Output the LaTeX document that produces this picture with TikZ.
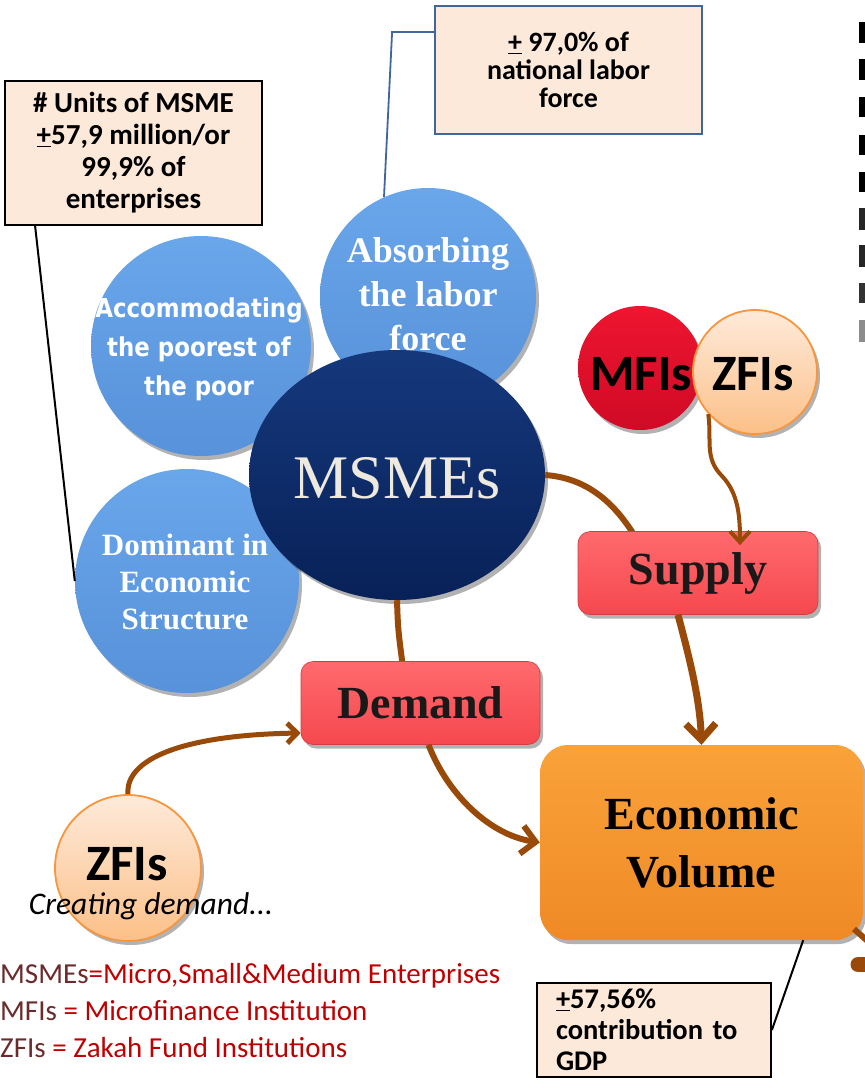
\documentclass[tikz,border=0pt]{standalone}
\usepackage{fontspec}
\setmainfont{Liberation Serif}
\newfontfamily\calib{Carlito}
\newfontfamily\tahfont[FakeStretch=0.88]{DejaVu Sans}
\usetikzlibrary{shapes.geometric,arrows.meta,shadows,calc}
\definecolor{peach}{HTML}{FDE9D9}
\definecolor{bluetop}{HTML}{6AA6EA}
\definecolor{bluebot}{HTML}{5792DA}
\definecolor{navytop}{HTML}{15387C}
\definecolor{navybot}{HTML}{082158}
\definecolor{cream}{HTML}{EEE9DF}
\definecolor{mfired}{HTML}{EE1530}
\definecolor{mfireddark}{HTML}{D00A25}
\definecolor{zfitop}{HTML}{FEEADA}
\definecolor{zfibot}{HTML}{FCC088}
\definecolor{zfiedge}{HTML}{F7963C}
\definecolor{boxtop}{HTML}{FF6A6E}
\definecolor{boxbot}{HTML}{F5484E}
\definecolor{econtop}{HTML}{FAA23A}
\definecolor{econbot}{HTML}{EF8A26}
\definecolor{brownarr}{HTML}{9A4A08}
\definecolor{calloutblue}{HTML}{41679A}
\definecolor{legdark}{HTML}{6B2B2B}
\definecolor{legred}{HTML}{C00000}
\begin{document}
\begin{tikzpicture}[x=1pt,y=-1pt,
  callout/.style={draw=black, line width=1.8pt, fill=peach, inner sep=0pt,
    font={\calib\bfseries\fontsize{29}{32}\selectfont}, align=center},
  softshadow/.style={drop shadow={shadow xshift=3pt, shadow yshift=-4pt, opacity=.3, fill=black}},
  bluecirc/.style={circle, inner sep=0pt, minimum size=#1, top color=bluetop, bottom color=bluebot, softshadow},
  zficirc/.style={circle, inner sep=0pt, minimum size=#1, top color=zfitop, bottom color=zfibot, draw=zfiedge, line width=1.8pt, softshadow},
  redbox/.style={rectangle, rounded corners=12pt, top color=boxtop, bottom color=boxbot, draw=boxbot!85!black, line width=0.6pt, softshadow,
    minimum width=#1, minimum height=83pt, font={\bfseries\fontsize{46}{52}\selectfont}, text=black!90},
  brownline/.style={draw=brownarr, line width=6pt},
  labeltext/.style={text=white, align=center, inner sep=0pt},
  legend/.style={anchor=west, inner sep=0pt, font={\calib\fontsize{29}{34}\selectfont}}
]
\useasboundingbox (0,0) rectangle (865,1088);
\begin{scope}
\clip (0,0) rectangle (865,1088);

% callout boxes and their lines
\node[callout, minimum width=257pt, minimum height=144pt] (box1) at (133.5,153)
  {\# Units of MSME\\\underline{+}57,9 million/or\\99,9\% of\\enterprises};
\node[callout, draw=calloutblue, minimum width=267pt, minimum height=128pt,
  font={\calib\bfseries\fontsize{28}{28}\selectfont}] (box2) at (568.5,70)
  {\underline{+} 97,0\% of\\national labor\\force};

% side circles
\node[bluecirc=220pt] (acc) at (201,346) {};
\node[labeltext, font={\tahfont\bfseries\fontsize{26}{39}\selectfont}] (acct) at (199,349)
  {Accommodating\\the poorest of\\the poor};
\node[bluecirc=216pt] (abs) at (428,296) {};
\node[labeltext, font={\bfseries\fontsize{36}{44}\selectfont}] (abst) at (428,294)
  {Absorbing\\the labor\\force};
\node[bluecirc=224pt] (dom) at (187,581) {};
\node[labeltext, font={\bfseries\fontsize{31}{37}\selectfont}] (domt) at (185,582)
  {Dominant in\\Economic\\Structure};

\draw[black, line width=2pt] ([xshift=31pt]box1.south west) -- (dom.west);
\draw[calloutblue, line width=1.8pt] ([yshift=38pt]box2.west) -- ++(-42,0) -- (abs.114);

% central ellipse
\node[ellipse, inner sep=0pt, minimum width=296pt, minimum height=250pt,
  top color=navytop, bottom color=navybot, softshadow] (msme) at (397,475) {};
\node[text=cream, inner sep=0pt, font={\fontsize{62}{70}\selectfont}] (msmet) at (397,478) {MSMEs};

% MFIs / ZFIs
\node[circle, inner sep=0pt, minimum size=124pt, top color=mfired, bottom color=mfireddark, softshadow] (mfi) at (640,368) {};
\node[zficirc=124pt] (zfitopc) at (755,372) {};
\node[inner sep=0pt, font={\calib\bfseries\fontsize{51}{56}\selectfont}] (mfit) at (641,374) {MFIs};
\node[inner sep=0pt, font={\calib\bfseries\fontsize{51}{56}\selectfont}] (zfit1) at (753,374) {ZFIs};

% connectors running behind boxes
\draw[brownline] (msme.east) .. controls (585,478) and (615,500) .. (640,545);
\draw[brownline] (msme.south) .. controls (398,630) .. (404,675);

% boxes
\node[redbox=240pt] (supply) at (698,573) {Supply};
\node[redbox=239pt] (demand) at (420.5,703) {Demand};
\node[rectangle, rounded corners=28pt, minimum width=323pt, minimum height=195pt,
  top color=econtop, bottom color=econbot, softshadow, align=center,
  font={\bfseries\fontsize{46}{58}\selectfont}] (econ) at (701.5,842.5) {Economic\\Volume};

% arrows
\draw[brownline, line width=4pt, -{Straight Barb[length=11pt,width=20pt]}]
  (zfitopc.222) .. controls (712,440) and (704,458) .. (722,476) .. controls (738,493) and (740,515) .. ([xshift=42pt,yshift=-14pt]supply.north);
\draw[brownline, line width=7pt, -{Straight Barb[length=16pt,width=30pt]}]
  ([xshift=-20pt]supply.south) .. controls (690,660) and (700,700) .. (econ.north);
\draw[brownline, -{Straight Barb[length=14pt,width=28pt]}]
  ([xshift=8pt]demand.south) .. controls (448,795) and (490,835) .. (econ.west);

% bottom ZFIs
\node[zficirc=146pt] (zfib) at (128,868) {};
\node[inner sep=0pt, text depth=0pt, font={\calib\bfseries\fontsize{51}{56}\selectfont}] (zfit2) at (127,864) {ZFIs};
\node[inner sep=0pt, font={\calib\itshape\fontsize{31.5}{34}\selectfont}] (creat) at (151,906) {Creating demand...};
\draw[brownline, line width=5pt, -{Straight Barb[length=10pt,width=20pt]}]
  (zfib.north) .. controls (125,760) and (180,735) .. ([yshift=-30pt]demand.west);

% connector leaving to the right
\coordinate (econc) at (854,929);
\coordinate (offr) at (880,952);
\draw[brownline] (econc) -- (offr);
\coordinate (blob) at (858,964.5);
\coordinate (blobr) at (880,964.5);
\draw[brownline, line width=15pt, line cap=round] (blob) -- (blobr);

% GDP box
\node[callout, minimum width=234pt, minimum height=94pt, text width=196pt, align=left,
  font={\calib\bfseries\fontsize{28.5}{31}\selectfont}] (gdp) at (654,1030)
  {\underline{+}57,56\%\\contribution to\\GDP};
\draw[black, line width=2pt] (gdp.east) -- ([xshift=-60pt]econ.south east);

% legend
\node[legend] (leg1) at (0,976)
  {\textcolor{legdark}{MSMEs}\textcolor{legred}{=Micro,Small\&Medium Enterprises}};
\node[legend] (leg2) at (0,1011)
  {\textcolor{legdark}{MFIs }\textcolor{legred}{= Microfinance Institution}};
\node[legend] (leg3) at (0,1048)
  {\textcolor{legdark}{ZFIs }\textcolor{legred}{= Zakah Fund Institutions}};

% cut-off text fragments at right edge
\foreach \ya/\yb/\c in {22/43/black,59/80/black,97/117/black,135/155/black,172/192/black,208/230/black!85,245/267/black!85,283/303/black!80,320/342/black!45}
  \fill[\c] (859,\ya) rectangle (866,\yb);
\end{scope}
\end{tikzpicture}
\end{document}
